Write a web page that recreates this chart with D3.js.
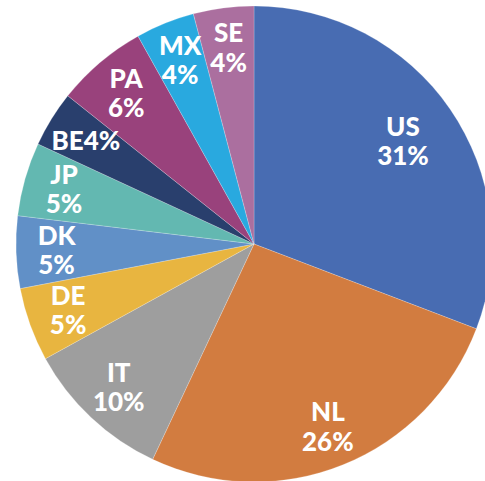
<!DOCTYPE html>
<html>
<head>
<meta charset="utf-8">
<script src="https://cdn.jsdelivr.net/npm/d3@7"></script>
<style>
  html, body { margin: 0; padding: 0; background: #fff; overflow: hidden; }
</style>
</head>
<body>
<div id="chart"></div>
<script>
const countries = ["US", "NL", "IT", "DE", "DK", "JP", "BE", "PA", "MX", "SE"];
const shares = [30.8, 26.2, 10.0, 5.0, 4.9, 5.0, 3.8, 6.2, 4.0, 4.1];
const colors = ["#486cb2", "#d27c40", "#9e9e9e", "#e8b540", "#6190c7", "#63b8b1", "#293f6d", "#99427c", "#29a9df", "#ab6f9f"];
const singleLine = ["BE"]; // label squeezed on one line

const width = 485, height = 481;
const cx = 254, cy = 244, radius = 238;

const data = countries.map((c, i) => ({ name: c, value: shares[i], color: colors[i] }));

const svg = d3.select("#chart").append("svg")
  .attr("width", width)
  .attr("height", height);

const g = svg.append("g").attr("transform", `translate(${cx},${cy})`);

const pie = d3.pie().value(d => d.value).sort(null);
const arc = d3.arc().innerRadius(0).outerRadius(radius);
const labelArc = d3.arc().innerRadius(radius * 0.83).outerRadius(radius * 0.83);
const bigLabelArc = d3.arc().innerRadius(radius * 0.76).outerRadius(radius * 0.76);

const arcs = pie(data);

g.selectAll("path")
  .data(arcs)
  .enter().append("path")
  .attr("d", arc)
  .attr("fill", d => d.data.color)
  .attr("stroke", "rgba(255,255,255,0.35)")
  .attr("stroke-width", 0.6);

const labels = g.selectAll(".label")
  .data(arcs)
  .enter().append("text")
  .attr("class", "label")
  .attr("transform", d => {
    const a = d.data.value > 30 ? bigLabelArc : labelArc;
    return `translate(${a.centroid(d)})`;
  })
  .attr("text-anchor", "middle")
  .style("font-family", "Lato, 'Open Sans', sans-serif")
  .style("font-weight", "900")
  .style("font-size", "26px")
  .style("fill", "#fff");

labels.each(function(d) {
  const t = d3.select(this);
  const pct = Math.round(d.data.value) + "%";
  if (singleLine.includes(d.data.name)) {
    t.append("tspan").attr("x", 0).attr("dy", "0.36em").text(d.data.name + pct);
  } else {
    t.append("tspan").attr("x", 0).attr("dy", "-0.22em").text(d.data.name);
    t.append("tspan").attr("x", 0).attr("dy", "1.12em").text(pct);
  }
});
</script>
</body>
</html>
